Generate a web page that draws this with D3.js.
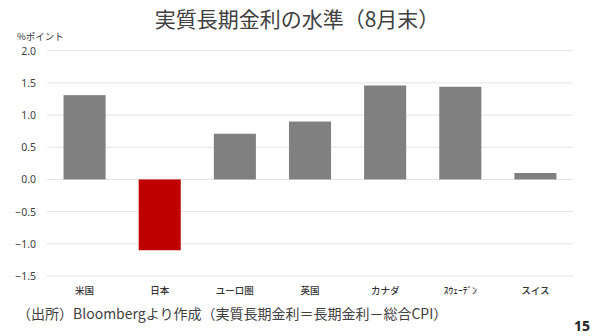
<!DOCTYPE html>
<html><head><meta charset="utf-8">
<script src="https://cdn.jsdelivr.net/npm/d3@7"></script>
<style>body{margin:0;background:#fff}svg{display:block}text{font-family:"Noto Sans CJK JP","Noto Sans",sans-serif}</style>
</head><body><svg id="c" width="600" height="336"></svg>
<script>
const categories = ["米国","日本","ユーロ圏","英国","カナダ","ｽｳｪｰﾃﾞﾝ","スイス"];
const values = [1.31, -1.10, 0.71, 0.90, 1.46, 1.44, 0.10];
const highlight = ["日本"];
const yTicks = [2.0, 1.5, 1.0, 0.5, 0.0, -0.5, -1.0, -1.5];

const svg = d3.select("#c");
const x = d3.scaleBand().domain(categories).range([47, 573]).paddingInner(0.44).paddingOuter(0.22);
const y = d3.scaleLinear().domain([-1.5, 2.0]).range([276, 50.7]);

// gridlines
svg.append("g").selectAll("line").data(yTicks).join("line")
  .attr("x1", 47).attr("x2", 573)
  .attr("y1", d => y(d)).attr("y2", d => y(d))
  .attr("stroke", "#e3e3e3").attr("stroke-width", 1);

// y axis labels
const yAxis = d3.axisLeft(y).tickValues(yTicks).tickFormat(d3.format(".1f")).tickSize(0).tickPadding(0);
const ya = svg.append("g").attr("transform", "translate(36,0)").call(yAxis);
ya.select(".domain").remove();
ya.selectAll("text").attr("fill", "#404040").style("font-size", "10.5px").style("font-family", "'Noto Sans','Noto Sans CJK JP',sans-serif");

// bars
svg.append("g").selectAll("rect").data(categories).join("rect")
  .attr("x", d => x(d))
  .attr("width", x.bandwidth())
  .attr("y", (d, i) => y(Math.max(0, values[i])))
  .attr("height", (d, i) => Math.abs(y(values[i]) - y(0)))
  .attr("fill", d => highlight.includes(d) ? "#c00000" : "#808080");

// category labels
const xAxis = d3.axisBottom(x).tickSize(0).tickPadding(0);
const xa = svg.append("g").attr("transform", "translate(0,287)").call(xAxis);
xa.select(".domain").remove();
xa.selectAll("text").attr("fill", "#333").style("font-size", "9.5px").style("font-weight", "500");

// title
svg.append("text").attr("x", 297).attr("y", 27).attr("text-anchor", "middle")
  .attr("fill", "#404040").style("font-size", "21px").text("実質長期金利の水準（8月末）");

// unit
svg.append("text").attr("x", 17).attr("y", 40).attr("fill", "#333").style("font-size", "9.5px").text("%ポイント");

// source
svg.append("text").attr("x", 17).attr("y", 319).attr("fill", "#404040").style("font-size", "14px")
  .text("（出所）Bloombergより作成（実質長期金利＝長期金利－総合CPI）");

// page number
svg.append("text").attr("x", 590).attr("y", 331).attr("text-anchor", "end").attr("fill", "#222")
  .style("font-size", "14px").style("font-weight", "bold").style("font-family", "'Noto Sans',sans-serif").text("15");
</script></body></html>
